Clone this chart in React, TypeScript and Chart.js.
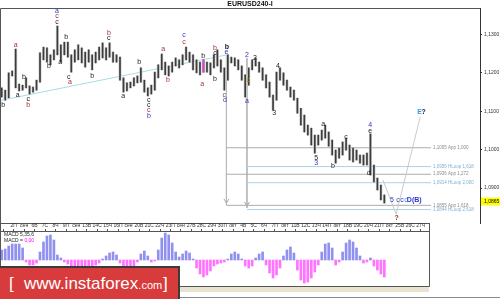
import React, { useEffect, useRef } from 'react';
import { Chart, registerables } from 'chart.js';

Chart.register(...registerables);

// ---------- data ----------
const highs = [
  1.1161, 1.1155, 1.1200, 1.1205, 1.1262, 1.1171, 1.1168, 1.1187, 1.1166, 1.1163,
  1.1181, 1.1252, 1.1267, 1.1265, 1.1247, 1.1260, 1.1322, 1.1273, 1.1280, 1.1280,
  1.1247, 1.1260, 1.1273, 1.1265, 1.1254, 1.1260, 1.1247, 1.1254, 1.1267, 1.1278,
  1.1265, 1.1278, 1.1254, 1.1247, 1.1241, 1.1187, 1.1174, 1.1176, 1.1187, 1.1192,
  1.1213, 1.1181, 1.1161, 1.1168, 1.1202, 1.1221, 1.1249, 1.1228, 1.1218, 1.1228,
  1.1239, 1.1234, 1.1247, 1.1267, 1.1254, 1.1247, 1.1234, 1.1228, 1.1234, 1.1228,
  1.1226, 1.1247, 1.1260, 1.1234, 1.1213, 1.1247, 1.1241, 1.1239, 1.1234, 1.1218,
  1.1195, 1.1213, 1.1234, 1.1239, 1.1228, 1.1213, 1.1195, 1.1176, 1.1142, 1.1202,
  1.1213, 1.1200, 1.1181, 1.1163, 1.1155, 1.1134, 1.1108, 1.1090, 1.1064, 1.1056,
  1.1038, 1.1038, 1.1051, 1.1064, 1.1046, 1.1025, 1.0999, 1.1004, 1.1020, 1.1030,
  1.1012, 1.1004, 1.0999, 1.0986, 1.0986, 1.0991, 1.1041, 1.0960, 1.0926, 1.0908,
  1.0882,
];
const lows = [
  1.1137, 1.1129, 1.1135, 1.1192, 1.1161, 1.1153, 1.1155, 1.1161, 1.1145, 1.1150,
  1.1155, 1.1176, 1.1234, 1.1228, 1.1221, 1.1234, 1.1247, 1.1228, 1.1247, 1.1241,
  1.1202, 1.1228, 1.1234, 1.1226, 1.1215, 1.1228, 1.1208, 1.1226, 1.1234, 1.1239,
  1.1234, 1.1241, 1.1228, 1.1228, 1.1181, 1.1150, 1.1153, 1.1161, 1.1166, 1.1174,
  1.1176, 1.1150, 1.1140, 1.1145, 1.1155, 1.1187, 1.1208, 1.1195, 1.1192, 1.1202,
  1.1218, 1.1213, 1.1221, 1.1234, 1.1228, 1.1208, 1.1200, 1.1195, 1.1202, 1.1202,
  1.1195, 1.1213, 1.1218, 1.1202, 1.1155, 1.1181, 1.1226, 1.1218, 1.1208, 1.1181,
  1.1137, 1.1168, 1.1208, 1.1218, 1.1202, 1.1181, 1.1161, 1.1137, 1.1103, 1.1129,
  1.1181, 1.1168, 1.1155, 1.1137, 1.1129, 1.1095, 1.1064, 1.1046, 1.1038, 1.1012,
  1.0991, 1.1012, 1.1025, 1.1030, 1.1009, 1.0986, 1.0965, 1.0978, 1.0986, 1.0999,
  1.0973, 1.0968, 1.0973, 1.0965, 1.0960, 1.0960, 1.0934, 1.0916, 1.0895, 1.0869,
  1.0861,
];
const highlightIdx = [58];

// MACD(5,35,6) histogram, in pips
const macdHist = [
  10, 11, 14, 16, 16, 16, 12, -2, -5, -5,
  -3, 8, 18, 24, 25, 20, 5, 2, -2, -4,
  -6, -7, -7, -6, -7, -7, -6, -5, -3, 1,
  4, 7, 8, 5, -3, -6, -7, -7, -6, -2,
  6, 9, 4, -2, -1, 10, 22, 27, 25, 17,
  8, 3, 6, 9, 7, 1, -8, -14, -17, -15,
  -11, -6, -4, -3, -2, 1, 6, 8, 6, 1,
  -6, -8, -6, 2, 6, 8, -5, -13, -18, -15,
  -8, 4, 10, 13, 7, -10, -20, -23, -22, -18,
  -12, -5, 8, 16, 17, 12, -5, -2, 8, 17,
  20, 18, 12, 4, -3, -2, 2, -6, -10, -14, -17,
];

const dayLabels = [
  '2П', 'сен', '6В', '7С', '8Ч', '9П', 'сен', '13В', '14С', '15Ч',
  '16П', 'сен', '20В', '21С', '22Ч', '23П', 'сен', '27В', '28С', '29Ч',
  '30П', 'окт', '4В', '5С', '6Ч', '7П', 'окт', '11В', '12С', '13Ч',
  '14П', 'окт', '18В', '19С', '20Ч', '21П', 'окт', '25В', '26С', '27Ч',
];

const priceTicks = [1.09, 1.10, 1.11, 1.12, 1.13];
const lastPrice = 1.0865;

const trendLine = [{ x: -0.5, y: 1.1128 }, { x: 64.7, y: 1.1247 }];
const projLine = [{ x: 109.6, y: 1.0921 }, { x: 113.4, y: 1.0832 }, { x: 120.3, y: 1.1085 }];

const vLineIdx = [64.6, 70.5];
const vLineTop = [1.1247, 1.1239];
const vLineBottom = [1.0856, 1.0848];

const fibPrices = [1.1005, 1.0956, 1.0936, 1.0914, 1.0855, 1.0844];
const fibTexts = [
  '1,1005 App 1,000', '1,0956 HLoop 1,618', '1,0936 App 1,272',
  '1,0914 HLoop 2,000', '1,0855 App 1,618', '1,0844 HLoop 2,618',
];
const fibKinds = ['app', 'hloop', 'app', 'hloop', 'app', 'hloop'];
const fibEndIdx = 123.4;

// [text, bar index, price, colour key, bold]
const waveLabels: [string, number, number, string, boolean][] = [
  ['b', 0.4, 1.1116, 'k', false],
  ['a', 4.0, 1.1272, 'r', false],
  ['a', 4.6, 1.1142, 'k', false],
  ['b', 6.4, 1.1189, 'k', false],
  ['c', 7.6, 1.1132, 'k', false],
  ['b', 7.6, 1.1116, 'r', false],
  ['b', 13.6, 1.1218, 'k', false],
  ['a', 15.9, 1.1361, 'b', false],
  ['c', 15.9, 1.1347, 'r', false],
  ['c', 15.9, 1.1333, 'k', false],
  ['a', 16.8, 1.1228, 'k', false],
  ['b', 18.5, 1.1294, 'k', false],
  ['c', 19.3, 1.1189, 'k', false],
  ['a', 19.6, 1.1176, 'r', false],
  ['b', 26.0, 1.1192, 'k', false],
  ['b', 30.8, 1.1304, 'r', false],
  ['c', 30.8, 1.1291, 'k', false],
  ['a', 34.9, 1.1140, 'k', false],
  ['b', 39.5, 1.1228, 'k', false],
  ['c', 42.3, 1.1129, 'k', false],
  ['c', 42.3, 1.1116, 'k', false],
  ['c', 42.3, 1.1103, 'r', false],
  ['b', 42.3, 1.1088, 'b', false],
  ['a', 46.4, 1.1262, 'r', false],
  ['b', 47.8, 1.1181, 'r', false],
  ['c', 52.4, 1.1299, 'b', false],
  ['c', 52.4, 1.1281, 'r', false],
  ['a', 57.6, 1.1171, 'r', false],
  ['b', 57.9, 1.1244, 'k', false],
  ['b', 61.3, 1.1265, 'r', false],
  ['c', 61.3, 1.1252, 'k', false],
  ['b', 61.3, 1.1184, 'k', false],
  ['c', 64.0, 1.1142, 'r', false],
  ['d', 64.2, 1.1128, 'b', false],
  ['b', 64.7, 1.1268, 'k', true],
  ['e', 64.6, 1.1254, 'b', false],
  ['2', 70.5, 1.1247, 'b', false],
  ['c', 70.9, 1.1181, 'o', false],
  ['a', 70.5, 1.1127, 'b', false],
  ['2', 72.8, 1.1239, 'k', false],
  ['3', 78.3, 1.1095, 'k', false],
  ['4', 79.4, 1.1218, 'k', false],
  ['5', 90.4, 1.0978, 'k', false],
  ['3', 90.4, 1.0965, 'b', false],
  ['a', 92.4, 1.1067, 'k', false],
  ['b', 95.2, 1.0958, 'k', false],
  ['c', 99.0, 1.1033, 'k', false],
  ['4', 105.9, 1.1064, 'b', false],
  ['e', 105.9, 1.1049, 'k', false],
  ['d', 105.5, 1.0939, 'k', false],
  ['?', 113.5, 1.0822, 'r', true],
  ['E', 120.1, 1.1098, 'lb', true],
  ['?', 121.3, 1.1098, 'k', true],
  ['5', 112.2, 1.0869, 'b', false],
  ['c', 113.9, 1.0869, 'nv', false],
  ['c', 115.1, 1.0869, 'b', false],
  ['c', 116.2, 1.0869, 'lb', false],
  ['D(B)', 118.6, 1.0869, 'b', true],
];

// ---------- styles ----------
const FONT = '"Liberation Sans", Arial, sans-serif';
const labelColors: Record<string, string> = {
  k: '#222222', r: '#a03232', b: '#3236c8', o: '#c89000', lb: '#2aa0e6', nv: '#334488',
};
const MAIN_X_MAX = 137.5;
const MAIN_W = 480;
const MACD_RIGHT = 429;
const MACD_X_MAX = -0.5 + (MAIN_X_MAX + 0.5) * (MACD_RIGHT / MAIN_W);

const fmt = (v: number) => v.toFixed(4).replace('.', ',');

const mainDecor = {
  id: 'mainDecor',
  afterDatasetsDraw(chart: any) {
    const { ctx, scales } = chart;
    const xs = scales.x, ys = scales.y;
    ctx.save();
    ctx.strokeStyle = '#a8a8a8';
    ctx.lineWidth = 1;
    vLineIdx.forEach((v, k) => {
      const px = xs.getPixelForValue(v);
      const py = ys.getPixelForValue(vLineBottom[k]);
      ctx.beginPath();
      ctx.moveTo(px - 2.5, py - 6);
      ctx.lineTo(px, py - 2);
      ctx.lineTo(px + 2.5, py - 6);
      ctx.stroke();
    });
    ctx.restore();
  },
  afterDraw(chart: any) {
    const { ctx, chartArea: ca, scales } = chart;
    const xs = scales.x, ys = scales.y;
    ctx.save();
    // frame
    ctx.strokeStyle = '#555';
    ctx.lineWidth = 1;
    ctx.beginPath();
    ctx.moveTo(0.5, ca.bottom + 0.5);
    ctx.lineTo(0.5, ca.top + 0.5);
    ctx.lineTo(ca.right, ca.top + 0.5);
    ctx.moveTo(0, ca.bottom + 0.5);
    ctx.lineTo(MACD_RIGHT + 1, ca.bottom + 0.5);
    ctx.stroke();
    // title
    ctx.fillStyle = '#111';
    ctx.font = `bold 7px ${FONT}`;
    ctx.textAlign = 'center';
    ctx.textBaseline = 'middle';
    ctx.fillText('EURUSD240-I', 250, 4.5);
    // fib labels
    ctx.font = `4.5px ${FONT}`;
    ctx.textAlign = 'left';
    fibPrices.forEach((p, k) => {
      ctx.fillStyle = fibKinds[k] === 'app' ? '#8c8c8c' : '#7fb0d0';
      ctx.fillText(fibTexts[k], xs.getPixelForValue(fibEndIdx) + 2, ys.getPixelForValue(p));
    });
    // wave labels
    ctx.textAlign = 'center';
    waveLabels.forEach(([t, i, p, c, b]) => {
      ctx.font = `${b ? 'bold ' : ''}7px ${FONT}`;
      ctx.fillStyle = labelColors[c];
      ctx.fillText(t, xs.getPixelForValue(i), ys.getPixelForValue(p));
    });
    // current price box
    const py = ys.getPixelForValue(lastPrice);
    ctx.fillStyle = '#ffff00';
    ctx.fillRect(ca.right + 1, py - 4, 20, 8);
    ctx.fillStyle = '#000';
    ctx.font = `5px ${FONT}`;
    ctx.textAlign = 'left';
    ctx.fillText(fmt(lastPrice), ca.right + 4, py + 0.5);
    ctx.restore();
  },
};

const macdDecor = {
  id: 'macdDecor',
  afterDraw(chart: any) {
    const { ctx, chartArea: ca } = chart;
    ctx.save();
    ctx.strokeStyle = '#555';
    ctx.lineWidth = 1;
    ctx.beginPath();
    ctx.moveTo(0.5, 0);
    ctx.lineTo(0.5, ca.bottom + 0.5);
    ctx.lineTo(ca.right + 0.5, ca.bottom + 0.5);
    ctx.lineTo(ca.right + 0.5, 0);
    ctx.stroke();
    ctx.font = `5px ${FONT}`;
    ctx.textAlign = 'left';
    ctx.textBaseline = 'middle';
    ctx.fillStyle = '#222';
    ctx.fillText('MACD 5,35,6', 4, 12);
    ctx.fillText('MACD = ', 4, 18);
    const w = ctx.measureText('MACD = ').width;
    ctx.fillStyle = '#ff00ff';
    ctx.fillText('0,00', 4 + w, 18);
    ctx.restore();
  },
};

export default function App() {
  const mainRef = useRef<HTMLCanvasElement>(null);
  const macdRef = useRef<HTMLCanvasElement>(null);

  useEffect(() => {
    document.body.style.margin = '0';
    const barData = highs.map((h, i) => ({ x: i, y: [lows[i], h] }));
    const hlData = highlightIdx.map((i) => ({ x: i, y: [lows[i], highs[i]] }));
    const lineBase = { type: 'line', pointRadius: 0, borderWidth: 1, fill: false, tension: 0 };

    const fibSets = fibPrices.map((p, k) => ({
      ...lineBase,
      data: [
        { x: fibKinds[k] === 'app' ? vLineIdx[0] : vLineIdx[1], y: p },
        { x: fibEndIdx, y: p },
      ],
      borderColor: fibKinds[k] === 'app' ? '#acacac' : '#acd2e8',
      order: 5,
    }));
    const vSets = vLineIdx.map((v, k) => ({
      ...lineBase,
      data: [{ x: v, y: vLineTop[k] }, { x: v, y: vLineBottom[k] }],
      borderColor: '#b8b8b8',
      order: 5,
    }));

    const main = new Chart(mainRef.current as HTMLCanvasElement, {
      type: 'bar',
      data: {
        datasets: [
          { type: 'bar', data: hlData, backgroundColor: '#e040e0', barThickness: 1, grouped: false, order: -1 },
          { type: 'bar', data: barData, backgroundColor: '#3c3c3c', barThickness: 1, grouped: false, order: 0 },
          { type: 'bar', data: barData, backgroundColor: '#d2d2d2', barThickness: 2.4, grouped: false, order: 1 },
          { ...lineBase, data: trendLine, borderColor: '#a6dce4', order: 4 },
          { ...lineBase, data: projLine, borderColor: '#cacaca', order: 4 },
          ...fibSets,
          ...vSets,
        ] as any,
      },
      options: {
        responsive: false,
        devicePixelRatio: 1,
        animation: false,
        events: [],
        layout: { padding: { top: 8, bottom: 7, left: 0, right: 0 } },
        plugins: { legend: { display: false }, tooltip: { enabled: false } },
        scales: {
          x: { type: 'linear', min: -0.5, max: MAIN_X_MAX, display: false, offset: false },
          y: {
            type: 'linear',
            position: 'right',
            min: 1.0809,
            max: 1.1369,
            afterFit: (s: any) => { s.width = 20; },
            afterBuildTicks: (s: any) => { s.ticks = priceTicks.map((v) => ({ value: v })); },
            ticks: {
              callback: (v: any) => fmt(Number(v)),
              font: { family: FONT, size: 5 },
              color: '#333',
              padding: 2,
            },
            grid: { drawOnChartArea: false, drawTicks: true, tickLength: 2, color: '#333' },
            border: { display: true, color: '#333' },
          },
        },
      },
      plugins: [mainDecor],
    } as any);

    const macd = new Chart(macdRef.current as HTMLCanvasElement, {
      type: 'bar',
      data: {
        datasets: [
          {
            data: macdHist.map((v, i) => ({ x: i, y: v })),
            backgroundColor: (c: any) => ((c.parsed && c.parsed.y) >= 0 ? '#9090f0' : '#ff74ff'),
            barThickness: 2,
            grouped: false,
          },
        ] as any,
      },
      options: {
        responsive: false,
        devicePixelRatio: 1,
        animation: false,
        events: [],
        layout: { padding: { top: 0, bottom: 1, left: 0, right: 2 } },
        plugins: { legend: { display: false }, tooltip: { enabled: false } },
        scales: {
          x: {
            type: 'linear',
            position: 'top',
            min: -0.5,
            max: MACD_X_MAX,
            offset: false,
            afterFit: (s: any) => { s.height = 8; },
            afterBuildTicks: (s: any) => { s.ticks = dayLabels.map((_, k) => ({ value: 2 + 3 * k })); },
            ticks: {
              callback: (_v: any, idx: number) => dayLabels[idx],
              autoSkip: false,
              maxRotation: 0,
              minRotation: 0,
              labelOffset: 5,
              padding: 0,
              font: { family: FONT, size: 5 },
              color: '#333',
            },
            grid: { drawOnChartArea: false, drawTicks: true, tickLength: 2, color: '#555' },
            border: { display: true, color: '#555' },
          },
          y: { type: 'linear', min: -26, max: 29, display: false },
        },
      },
      plugins: [macdDecor],
    } as any);

    return () => {
      main.destroy();
      macd.destroy();
    };
  }, []);

  return (
    <div style={{ position: 'relative', width: 500, height: 299, background: '#fff', overflow: 'hidden' }}>
      <canvas ref={mainRef} width={500} height={230} style={{ position: 'absolute', left: 0, top: 0, display: 'block' }} />
      <canvas ref={macdRef} width={431} height={64} style={{ position: 'absolute', left: 0, top: 223, display: 'block' }} />
      <div style={{ position: 'absolute', left: 0, top: 287, width: 429, height: 5, background: '#e7e3d0' }} />
      <div style={{ position: 'absolute', left: 0, top: 297, width: 500, height: 1, background: '#8a8a8a' }} />
      <div
        style={{
          position: 'absolute', left: 0, top: 266, width: 178, height: 31,
          background: '#d83b3b', borderTop: '2px solid #3b3b3b', borderRight: '2px solid #3b3b3b',
          color: '#fff', fontFamily: FONT, whiteSpace: 'nowrap',
        }}
      >
        <span style={{ position: 'absolute', left: 9, top: 6, fontSize: 17 }}>[</span>
        <span style={{ position: 'absolute', left: 24, top: 6, fontSize: 17 }}>
          www.instaforex<span style={{ fontSize: 11 }}>.com</span>
        </span>
        <span style={{ position: 'absolute', left: 163, top: 6, fontSize: 17 }}>]</span>
      </div>
    </div>
  );
}
